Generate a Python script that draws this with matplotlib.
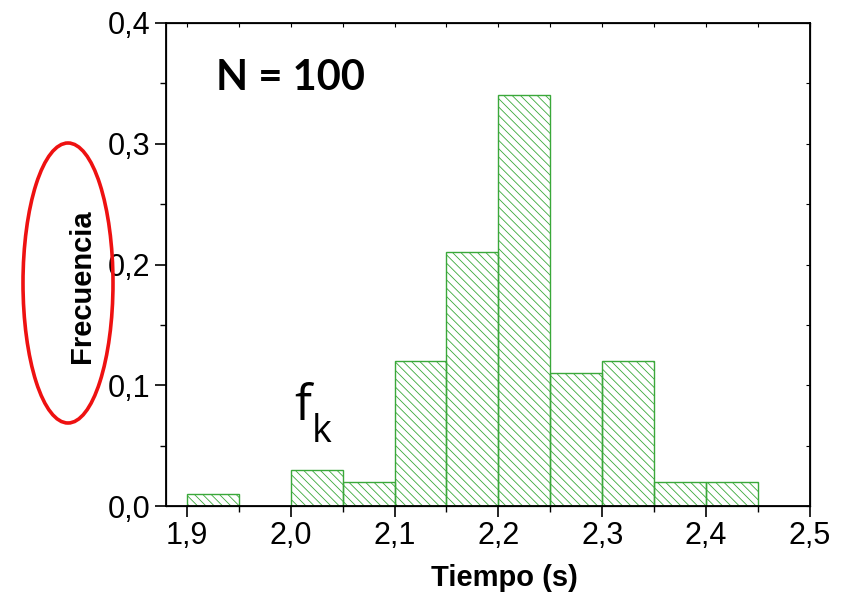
import matplotlib
matplotlib.use("Agg")
import matplotlib.pyplot as plt
from matplotlib.patches import Ellipse
from matplotlib.ticker import MultipleLocator, FuncFormatter

bin_left = [1.90, 1.95, 2.00, 2.05, 2.10, 2.15, 2.20, 2.25, 2.30, 2.35, 2.40]
freq = [0.01, 0.00, 0.03, 0.02, 0.12, 0.21, 0.34, 0.11, 0.12, 0.02, 0.02]
bin_width = 0.05
x_ticks = [1.9, 2.0, 2.1, 2.2, 2.3, 2.4, 2.5]
y_ticks = [0.0, 0.1, 0.2, 0.3, 0.4]

plt.rcParams['font.family'] = ['Liberation Sans', 'DejaVu Sans']
plt.rcParams['hatch.linewidth'] = 0.6

fig = plt.figure(figsize=(8.54, 5.95), dpi=100)
ax = fig.add_axes([166/854, 1-506/595, (810-166)/854, (506-23)/595])

green = '#3aa83a'
for xl, f in zip(bin_left, freq):
    if f > 0:
        ax.bar(xl, f, width=bin_width, align='edge', facecolor='none',
               edgecolor=green, hatch='\\\\\\\\', linewidth=1.0)

ax.set_xlim(1.88, 2.5)
ax.set_ylim(0, 0.4)
ax.set_xticks(x_ticks)
ax.set_yticks(y_ticks)
ax.xaxis.set_minor_locator(MultipleLocator(0.05))
ax.yaxis.set_minor_locator(MultipleLocator(0.05))
fmt = FuncFormatter(lambda v, p: f"{v:.1f}".replace('.', ','))
ax.xaxis.set_major_formatter(fmt)
ax.yaxis.set_major_formatter(fmt)
ax.tick_params(which='major', direction='out', length=8, width=1.2, labelsize=22,
               top=False, right=False, pad=3)
ax.tick_params(which='minor', direction='out', length=4, width=1.0, top=False, right=False)
for s in ax.spines.values():
    s.set_linewidth(1.3)

# inward small ticks on top/right
ax2 = ax.twinx()
ax2.set_ylim(0, 0.4)
ax2.yaxis.set_major_locator(MultipleLocator(0.05))
ax2.tick_params(direction='in', length=3, width=0.8, labelright=False)
ax3 = ax.twiny()
ax3.set_xlim(1.88, 2.5)
ax3.xaxis.set_major_locator(MultipleLocator(0.05))
ax3.tick_params(direction='in', length=3, width=0.8, labeltop=False)

ax.set_xlabel('Tiempo (s)', fontsize=21, fontweight='bold')
ax.set_ylabel('Frecuencia', fontsize=21, fontweight='bold')
ax.xaxis.set_label_coords((504-166)/644, -(578-506)/483)
ax.yaxis.set_label_coords((82-166)/644, (506-286)/483)
ax.xaxis.label.set_va('center')
ax.yaxis.label.set_va('center')

fig.text(216/854, 1-78/595, 'N = 100', fontsize=30, fontweight='bold',
         family=['Lato', 'DejaVu Sans'], va='center', ha='left')
fig.text(294/854, 1-420/595, 'f', fontsize=36, family=['Open Sans', 'DejaVu Sans'],
         va='baseline', ha='left')
fig.text(312/854, 1-442/595, 'k', fontsize=27, family=['Open Sans', 'DejaVu Sans'],
         va='baseline', ha='left')

ell = Ellipse((68/854, 1-283/595), 90/854, 280/595, transform=fig.transFigure,
              fill=False, edgecolor='#ee1111', linewidth=2.6)
fig.patches.append(ell)

fig.savefig('out.png', dpi=100)
